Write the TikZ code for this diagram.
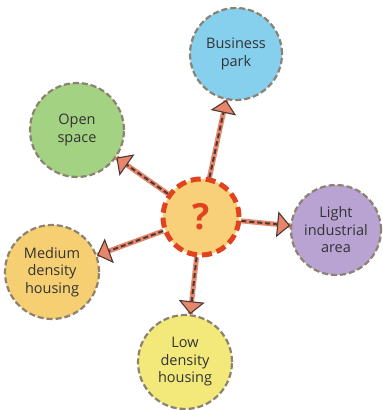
\documentclass[tikz,border=0pt]{standalone}
\usepackage{fontspec}
\setmainfont{Open Sans}
\usetikzlibrary{arrows.meta}
\definecolor{salmon}{HTML}{E8866C}
\definecolor{edgegrey}{HTML}{8C8272}
\definecolor{textc}{HTML}{333333}
\definecolor{darkline}{HTML}{4A3A36}
\definecolor{redc}{HTML}{E2431F}
\definecolor{centerfill}{HTML}{F9D07A}
\definecolor{bluefill}{HTML}{86D0EE}
\definecolor{greenfill}{HTML}{A3D283}
\definecolor{purplefill}{HTML}{B9A3D3}
\definecolor{orangefill}{HTML}{F6CF72}
\definecolor{yellowfill}{HTML}{F2E97A}
\begin{document}
\begin{tikzpicture}[x=1pt,y=1pt,
  place/.style={circle, draw=edgegrey, line width=2.2pt, dash pattern=on 6pt off 3pt,
    minimum size=#1, inner sep=0pt, align=center,
    font=\fontsize{14.5}{17.5}\selectfont, text=textc},
  hub/.style={circle, draw=redc, line width=5pt, dash pattern=on 10pt off 5pt,
    fill=centerfill, minimum size=76pt, inner sep=0pt, text=redc,
    font=\fontsize{36}{36}\selectfont\bfseries},
  link/.style={preaction={draw=salmon, line width=5pt, -},
    draw=darkline, line width=2pt, dash pattern=on 5pt off 3pt,
    -{Triangle[length=13pt,width=26pt,fill=salmon,line width=1.1pt]}}]
\useasboundingbox (0,0) rectangle (383,410);
\fill[white] (0,0) rectangle (383,410);
\node[place=92pt, fill=bluefill] (bp) at (236,356) {Business\\park};
\node[place=94pt, fill=greenfill] (os) at (77,280) {Open\\space};
\node[place=90pt, fill=purplefill] (li) at (336,180) {Light\\industrial\\area};
\node[place=94pt, fill=orangefill] (md) at (52,138) {Medium\\density\\housing};
\node[place=94pt, fill=yellowfill] (ld) at (185,48) {Low\\density\\housing};
\node[hub] (c) at (201,193) {?};
\draw[link] (c) -- (bp);
\draw[link] (c) -- (os);
\draw[link] (c) -- (li);
\draw[link] (c) -- (md);
\draw[link] (c) -- (ld);
\end{tikzpicture}
\end{document}
